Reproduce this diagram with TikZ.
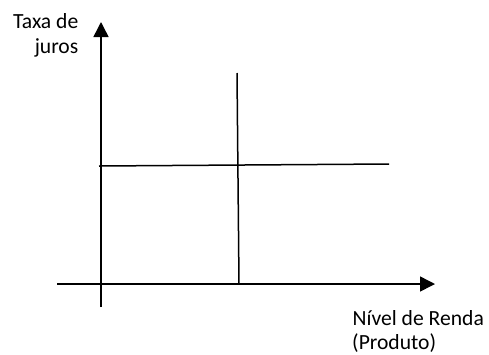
\documentclass[tikz,border=0pt]{standalone}
\usepackage{fontspec}
\setmainfont{Carlito}
\usetikzlibrary{arrows.meta}
\begin{document}
\begin{tikzpicture}[x=1pt,y=-1pt,
  axis/.style={line width=1.5pt,-{Triangle[length=15pt,width=15pt]}},
  curve/.style={line width=1.5pt},
  lbl/.style={inner sep=0pt,font=\fontsize{21.6}{26}\selectfont}]
\useasboundingbox (0,0) rectangle (489,354);
\coordinate (yb) at (101,307);
\coordinate (yt) at (101,22);
\coordinate (xl) at (57,284);
\coordinate (xr) at (435,284);
\coordinate (vt) at (237,73);
\coordinate (vb) at (239,284);
\coordinate (hl) at (99,166);
\coordinate (hr) at (389,164);
\draw[axis] (yb) -- (yt);
\draw[axis] (xl) -- (xr);
\draw[curve] (vt) -- (vb);
\draw[curve] (hl) -- (hr);
\node[lbl,anchor=base east] (t1) at (78.5,28.7) {Taxa de};
\node[lbl,anchor=base east] (t2) at (78.5,53.7) {juros};
\node[lbl,anchor=base west] (n1) at (352.5,325.7) {Nível de Renda};
\node[lbl,anchor=base west] (n2) at (352,349) {(Produto)};
\end{tikzpicture}
\end{document}
